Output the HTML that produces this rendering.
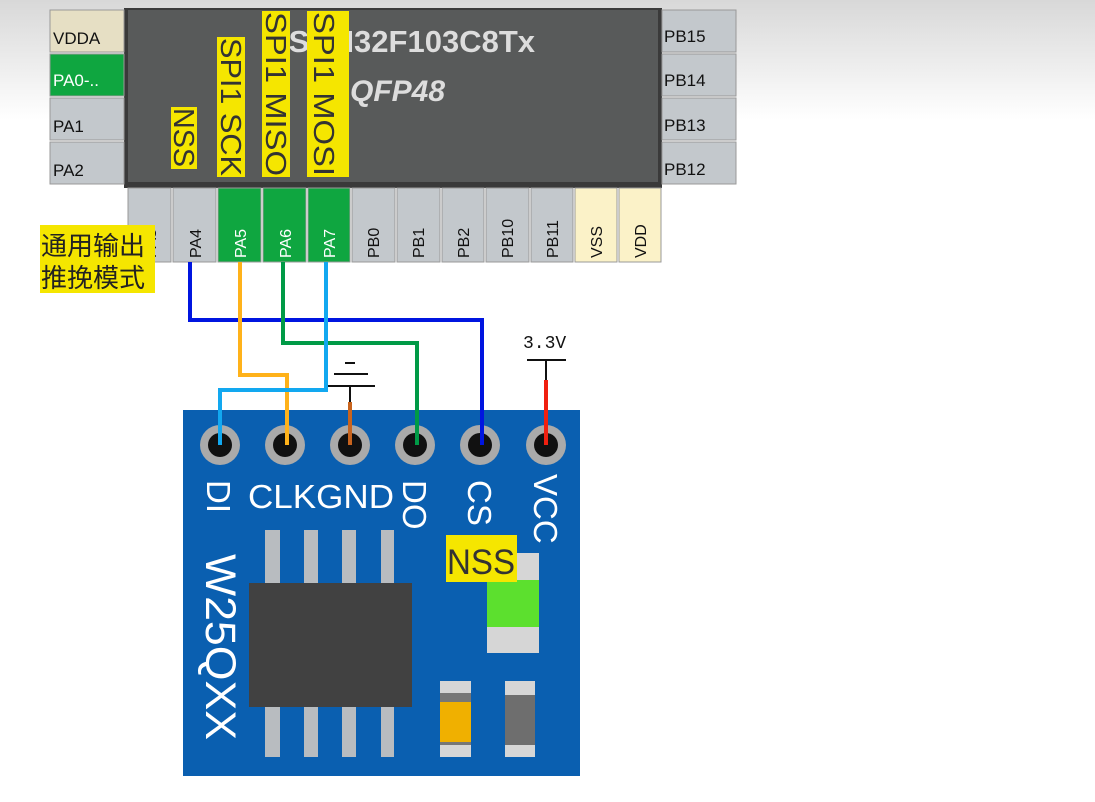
<!DOCTYPE html>
<html><head><meta charset="utf-8"><style>
body{margin:0;width:1095px;height:802px;overflow:hidden;background:#fff}
svg{display:block}
</style></head><body>
<svg width="1095" height="802" xmlns="http://www.w3.org/2000/svg" font-family="Liberation Sans, sans-serif">
<defs><linearGradient id="bg" x1="0" y1="0" x2="0" y2="1"><stop offset="0" stop-color="#d8d8d8"/><stop offset="1" stop-color="#ffffff"/></linearGradient></defs>
<rect x="0" y="0" width="1095" height="120" fill="url(#bg)"/>
<!-- chip -->
<rect x="124" y="8" width="538" height="180" fill="#3a3a3a"/>
<rect x="128" y="10" width="530" height="172" fill="#585a5a"/>
<text x="535" y="52" text-anchor="end" font-size="31" font-weight="bold" fill="#ddd">STM32F103C8Tx</text>
<text x="350" y="101" font-size="30" font-weight="bold" font-style="italic" fill="#ddd">QFP48</text>
<!-- left pins -->
<g font-size="17" fill="#111">
<rect x="50" y="10" width="74" height="42" fill="#e6dfc4" stroke="#999"/><text x="53" y="44">VDDA</text>
<rect x="50" y="54" width="74" height="42" fill="#0fa640" stroke="#999"/><text x="53" y="86" fill="#fff">PA0-..</text>
<rect x="50" y="98" width="74" height="42" fill="#c3c8cc" stroke="#999"/><text x="53" y="132">PA1</text>
<rect x="50" y="142" width="74" height="42" fill="#c3c8cc" stroke="#999"/><text x="53" y="176">PA2</text>
<rect x="662" y="10" width="74" height="42" fill="#c3c8cc" stroke="#999"/><text x="664" y="42">PB15</text>
<rect x="662" y="54" width="74" height="42" fill="#c3c8cc" stroke="#999"/><text x="664" y="86">PB14</text>
<rect x="662" y="98" width="74" height="42" fill="#c3c8cc" stroke="#999"/><text x="664" y="131">PB13</text>
<rect x="662" y="142" width="74" height="42" fill="#c3c8cc" stroke="#999"/><text x="664" y="175">PB12</text>
</g>
<!-- bottom pins -->
<g font-size="16" fill="#111">
<rect x="128" y="188" width="43" height="74" fill="#c3c8cc" stroke="#999"/><text transform="translate(156,258) rotate(-90)">PA3</text>
<rect x="173" y="188" width="43" height="74" fill="#c3c8cc" stroke="#999"/><text transform="translate(201,258) rotate(-90)">PA4</text>
<rect x="218" y="188" width="43" height="74" fill="#0fa640" stroke="#999"/><text transform="translate(246,258) rotate(-90)" fill="#fff">PA5</text>
<rect x="263" y="188" width="43" height="74" fill="#0fa640" stroke="#999"/><text transform="translate(291,258) rotate(-90)" fill="#fff">PA6</text>
<rect x="308" y="188" width="42" height="74" fill="#0fa640" stroke="#999"/><text transform="translate(335,258) rotate(-90)" fill="#fff">PA7</text>
<rect x="352" y="188" width="43" height="74" fill="#c3c8cc" stroke="#999"/><text transform="translate(379,258) rotate(-90)">PB0</text>
<rect x="397" y="188" width="43" height="74" fill="#c3c8cc" stroke="#999"/><text transform="translate(424,258) rotate(-90)">PB1</text>
<rect x="442" y="188" width="42" height="74" fill="#c3c8cc" stroke="#999"/><text transform="translate(469,258) rotate(-90)">PB2</text>
<rect x="486" y="188" width="43" height="74" fill="#c3c8cc" stroke="#999"/><text transform="translate(513,258) rotate(-90)">PB10</text>
<rect x="531" y="188" width="42" height="74" fill="#c3c8cc" stroke="#999"/><text transform="translate(558,258) rotate(-90)">PB11</text>
<rect x="575" y="188" width="42" height="74" fill="#fbf2c8" stroke="#999"/><text transform="translate(602,258) rotate(-90)">VSS</text>
<rect x="619" y="188" width="42" height="74" fill="#fbf2c8" stroke="#999"/><text transform="translate(646,258) rotate(-90)">VDD</text>
</g>
<!-- yellow labels -->
<g fill="#f5e600">
<rect x="171" y="107" width="26" height="62"/><rect x="217" y="37" width="28" height="140"/>
<rect x="262" y="11" width="28" height="166"/><rect x="307" y="11" width="42" height="166"/>
</g>
<g font-size="29" fill="#333">
<text transform="translate(174,108) rotate(90)" textLength="59" lengthAdjust="spacingAndGlyphs">NSS</text>
<text transform="translate(221,38) rotate(90)" textLength="138" lengthAdjust="spacingAndGlyphs">SPI1 SCK</text>
<text transform="translate(266,12) rotate(90)" textLength="164" lengthAdjust="spacingAndGlyphs">SPI1 MISO</text>
<text transform="translate(314,12) rotate(90)" textLength="164" lengthAdjust="spacingAndGlyphs">SPI1 MOSI</text>
</g>
<rect x="40" y="225" width="115" height="68" fill="#f5e600"/>
<text x="41" y="255" font-size="26" fill="#222" font-family="Liberation Sans, Noto Sans CJK SC, sans-serif">通用输出</text>
<text x="41" y="287" font-size="26" fill="#222" font-family="Liberation Sans, Noto Sans CJK SC, sans-serif">推挽模式</text>
<!-- board -->
<rect x="183" y="410" width="397" height="366" fill="#0a5fb0"/>
<g fill="#b8bcc0"><rect x="265" y="530" width="15" height="227"/><rect x="304" y="530" width="14" height="227"/><rect x="342" y="530" width="14" height="227"/><rect x="381" y="530" width="13" height="227"/></g>
<rect x="249" y="583" width="163" height="124" fill="#414141"/>
<rect x="487" y="553" width="52" height="100" fill="#d6d6d6"/><rect x="487" y="580" width="52" height="47" fill="#5ce02e"/>
<rect x="440" y="681" width="31" height="76" fill="#d6d6d6"/><rect x="440" y="693" width="31" height="52" fill="#777"/><rect x="440" y="702" width="31" height="40" fill="#f0b000"/>
<rect x="505" y="681" width="30" height="76" fill="#d6d6d6"/><rect x="505" y="695" width="30" height="50" fill="#6e6e6e"/>
<rect x="446" y="535" width="71" height="47" fill="#f5e600"/><text x="447" y="574" font-size="35" fill="#333" textLength="68" lengthAdjust="spacingAndGlyphs">NSS</text>
<g fill="#fff" font-size="33">
<text transform="translate(207,480) rotate(90)">DI</text>
<text x="248" y="508" textLength="146" lengthAdjust="spacingAndGlyphs">CLKGND</text>
<text transform="translate(403,480) rotate(90)">DO</text>
<text transform="translate(468,480) rotate(90)">CS</text>
<text transform="translate(534,474) rotate(90)">VCC</text>
<text transform="translate(206,554) rotate(90)" font-size="43" textLength="186" lengthAdjust="spacingAndGlyphs">W25QXX</text>
</g>
<g fill="#aaa"><circle cx="220" cy="445" r="20"/><circle cx="285" cy="445" r="20"/><circle cx="350" cy="445" r="20"/><circle cx="415" cy="445" r="20"/><circle cx="480" cy="445" r="20"/><circle cx="546" cy="445" r="20"/></g>
<g fill="#111"><circle cx="220" cy="445" r="12"/><circle cx="285" cy="445" r="12"/><circle cx="350" cy="445" r="12"/><circle cx="415" cy="445" r="12"/><circle cx="480" cy="445" r="12"/><circle cx="546" cy="445" r="12"/></g>
<!-- wires -->
<g fill="none" stroke-width="4">
<polyline points="190,262 190,320 482,320 482,445" stroke="#0015e0"/>
<polyline points="240,262 240,375 287,375 287,445" stroke="#ffb21a"/>
<polyline points="283,262 283,343 417,343 417,445" stroke="#009a46"/>
<polyline points="326,262 326,390 220,390 220,445" stroke="#12a8f0"/>
<line x1="350" y1="402" x2="350" y2="445" stroke="#c8641e"/>
<line x1="546" y1="380" x2="546" y2="445" stroke="#f02010"/>
</g>
<g stroke="#111" stroke-width="2">
<line x1="350" y1="386" x2="350" y2="402"/>
<line x1="328" y1="386" x2="375" y2="386"/><line x1="334" y1="374" x2="368" y2="374"/><line x1="345" y1="363" x2="355" y2="363"/>
<line x1="546" y1="360" x2="546" y2="380"/><line x1="527" y1="360" x2="566" y2="360"/>
</g>
<text x="523" y="348" font-size="18" fill="#111" font-family="Liberation Mono, monospace">3.3V</text>
</svg>
</body></html>
